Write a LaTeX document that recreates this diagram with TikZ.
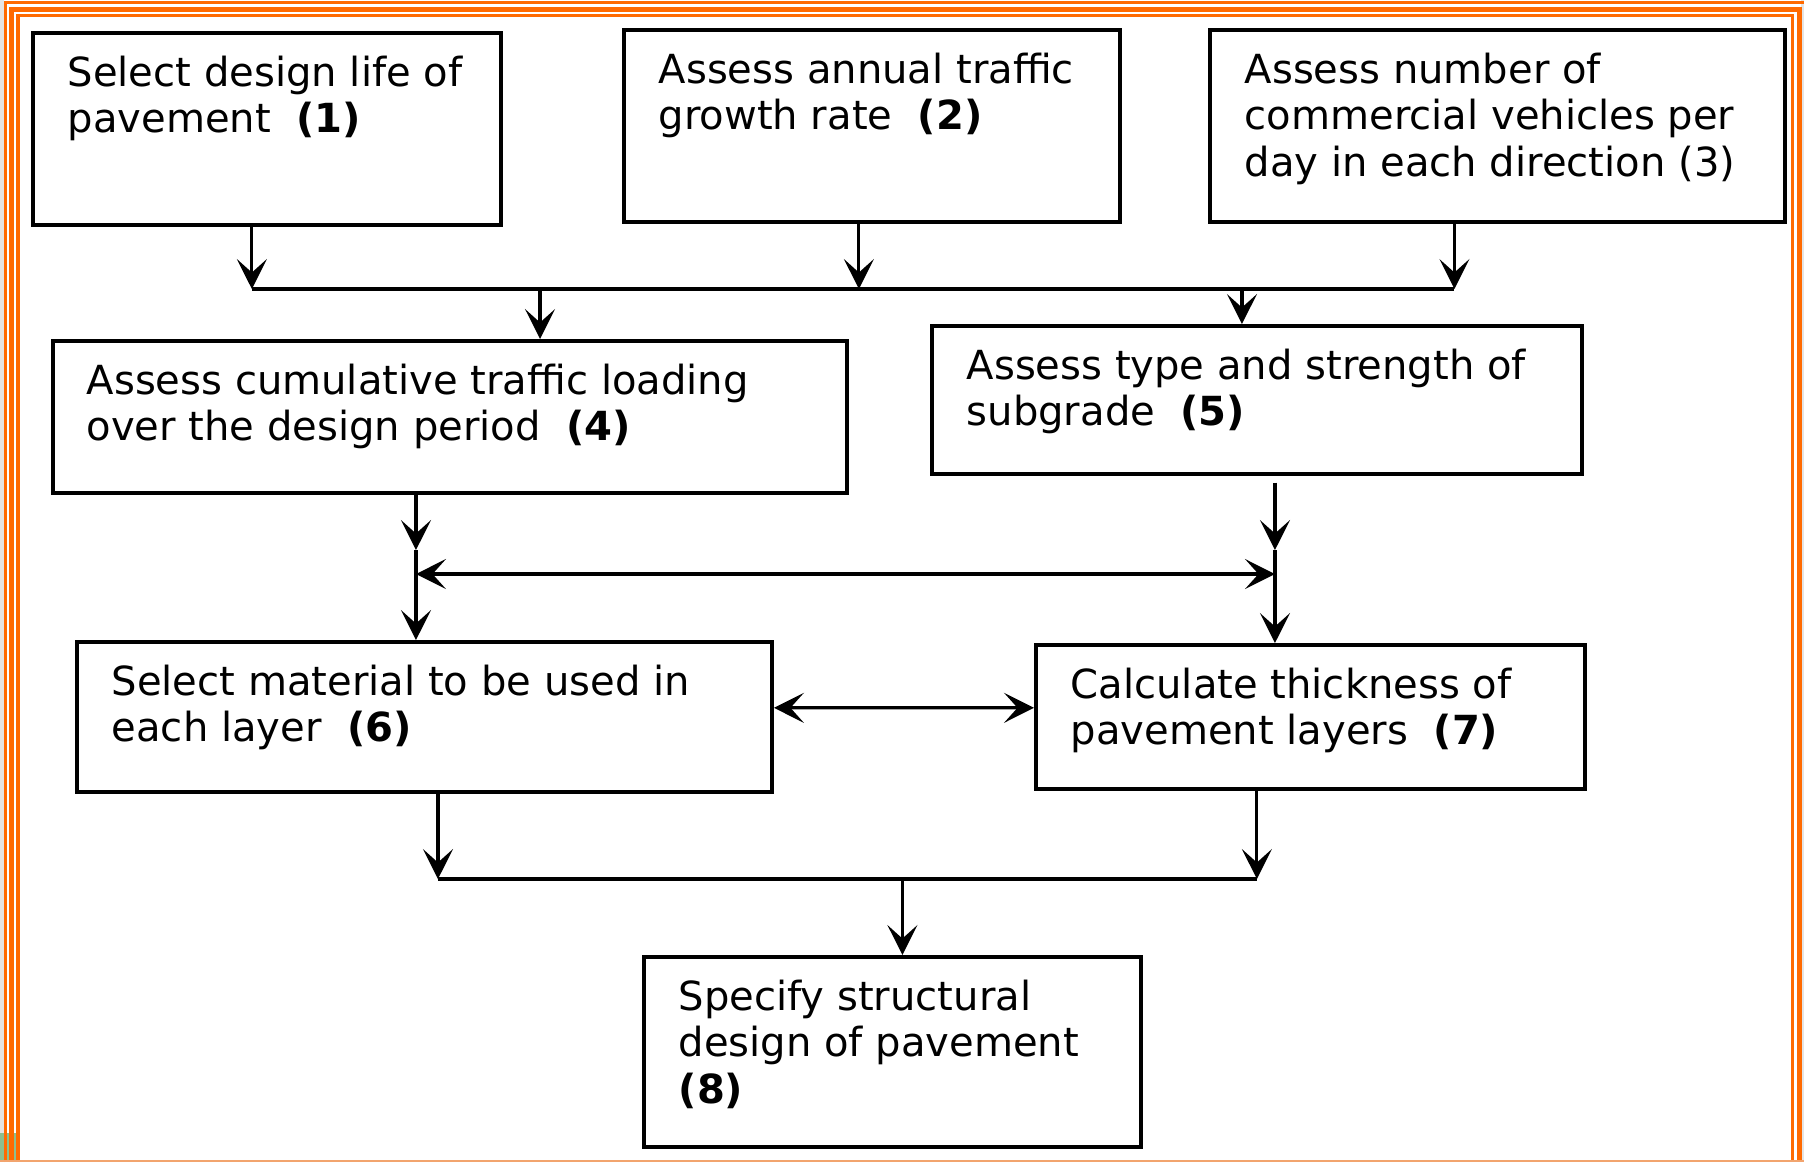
\documentclass[tikz,border=0pt]{standalone}
\usepackage{fontspec}
\setmainfont{DejaVu Sans}
\usetikzlibrary{positioning,arrows.meta}
\definecolor{frameorange}{HTML}{FF6A00}
\definecolor{framelight}{HTML}{F2A46E}
\definecolor{slidegray}{HTML}{E4E4E4}
\definecolor{slidegreen}{HTML}{8CBF8E}

\begin{document}
\begin{tikzpicture}[
  x=0.01cm, y=-0.01cm,
  box/.style={rectangle,draw,line width=1pt,anchor=north west,inner sep=0pt},
  txt/.style={align=left,inner sep=0pt,
              font=\fontsize{11.4}{13.2}\selectfont},
  arrow/.style={-{Stealth[length=8.5pt,width=8.5pt,inset=3.8pt]},line width=0.9pt},
  both/.style={{Stealth[length=8.5pt,width=8.5pt,inset=3.8pt]}-{Stealth[length=8.5pt,width=8.5pt,inset=3.8pt]},line width=0.9pt}
]
  \path[use as bounding box,fill=white] (0,0) rectangle (1804,1162);

  % slide frame
  \fill[slidegray] (0,0) rectangle (4,1162);
  \fill[slidegray] (1801,0) rectangle (1804,1162);
  \fill[slidegreen] (0,1133) rectangle (17,1162);
  \draw[frameorange,line width=0.03cm] (5.5,1162) -- (5.5,2.5) -- (1804,2.5);
  \draw[frameorange,line width=0.05cm] (11.5,1162) -- (11.5,9.5) -- (1799,9.5) -- (1799,1162);
  \draw[frameorange,line width=0.03cm] (18,1162) -- (18,15.5) -- (1792,15.5) -- (1792,1162);
  \draw[framelight,line width=0.02cm] (0,1161) -- (1804,1161);

  % boxes
  \node[box,minimum width=4.68cm,minimum height=1.92cm] (b1) at (31,31) {};
  \node[box,minimum width=4.96cm,minimum height=1.92cm] (b2) at (622,28) {};
  \node[box,minimum width=5.75cm,minimum height=1.92cm] (b3) at (1208,28) {};
  \node[box,minimum width=7.94cm,minimum height=1.52cm] (b4) at (51,339) {};
  \node[box,minimum width=6.50cm,minimum height=1.48cm] (b5) at (930,324) {};
  \node[box,minimum width=6.95cm,minimum height=1.50cm] (b6) at (75,640) {};
  \node[box,minimum width=5.49cm,minimum height=1.44cm] (b7) at (1034,643) {};
  \node[box,minimum width=4.97cm,minimum height=1.90cm] (b8) at (642,955) {};

  % texts
  \node[txt,below right=0.24cm and 0.36cm of b1.north west] (t1)
       {Select design life of\\pavement\ \ \textbf{(1)}};
  \node[txt,below right=0.24cm and 0.36cm of b2.north west] (t2)
       {Assess annual traffic\\growth rate\ \ \textbf{(2)}};
  \node[txt,below right=0.24cm and 0.36cm of b3.north west] (t3)
       {Assess number of\\commercial vehicles per\\day in each direction (3)};
  \node[txt,below right=0.24cm and 0.35cm of b4.north west] (t4)
       {Assess cumulative traffic loading\\over the design period\ \ \textbf{(4)}};
  \node[txt,below right=0.24cm and 0.36cm of b5.north west] (t5)
       {Assess type and strength of\\subgrade\ \ \textbf{(5)}};
  \node[txt,below right=0.24cm and 0.36cm of b6.north west] (t6)
       {Select material to be used in\\each layer\ \ \textbf{(6)}};
  \node[txt,below right=0.24cm and 0.36cm of b7.north west] (t7)
       {Calculate thickness of\\pavement layers\ \ \textbf{(7)}};
  \node[txt,below right=0.24cm and 0.36cm of b8.north west] (t8)
       {Specify structural\\design of pavement\\\textbf{(8)}};

  % junction levels
  \coordinate (jtop) at (0,289);
  \coordinate (jarr) at (0,550);
  \coordinate (jmid) at (0,574);
  \coordinate (jbot) at (0,879);

  % (1),(2),(3) -> (4),(5)
  \coordinate (d1) at ([xshift=-0.15cm]b1.south);
  \coordinate (d2) at ([xshift=-0.13cm]b2.south);
  \coordinate (d3) at ([xshift=-0.43cm]b3.south);
  \foreach \d in {d1,d2,d3}
    \draw[arrow] (\d) -- (\d |- jtop);
  \draw[line width=0.9pt] (d1 |- jtop) -- (d3 |- jtop);
  \coordinate (u4) at ([xshift=0.9cm]b4.north);
  \coordinate (u5) at ([xshift=-0.15cm]b5.north);
  \draw[arrow] (u4 |- jtop) -- (u4);
  \draw[arrow] (u5 |- jtop) -- (u5);

  % (4),(5) -> (6),(7)
  \coordinate (d4) at ([xshift=-0.34cm]b4.south);
  \coordinate (d5) at ([xshift=0.18cm,yshift=-0.07cm]b5.south);
  \draw[arrow] (d4) -- (d4 |- jarr);
  \draw[arrow] (d4 |- jarr) -- (d4 |- b6.north);
  \draw[arrow] (d5) -- (d5 |- jarr);
  \draw[arrow] (d5 |- jarr) -- (d5 |- b7.north);
  \draw[both] (d4 |- jmid) -- (d5 |- jmid);
  \draw[both] ([yshift=0.09cm]b6.east) -- ([yshift=0.09cm]b7.west);

  % (6),(7) -> (8)
  \coordinate (d6) at ([xshift=0.135cm]b6.south);
  \coordinate (d7) at ([xshift=-0.535cm]b7.south);
  \draw[arrow] (d6) -- (d6 |- jbot);
  \draw[arrow] (d7) -- (d7 |- jbot);
  \draw[line width=0.9pt] (d6 |- jbot) -- (d7 |- jbot);
  \coordinate (u8) at ([xshift=0.1cm]b8.north);
  \draw[arrow] (u8 |- jbot) -- (u8);
\end{tikzpicture}
\end{document}
